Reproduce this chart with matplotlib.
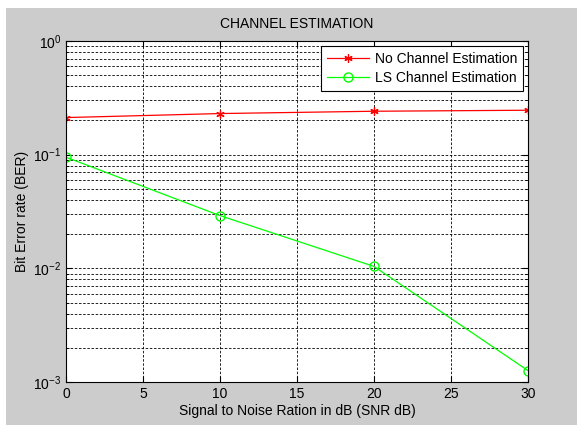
import matplotlib
matplotlib.use("Agg")
import matplotlib.pyplot as plt
from matplotlib.patches import Rectangle
from matplotlib.ticker import LogLocator, NullFormatter

plt.rcParams['font.family'] = ['Liberation Sans', 'DejaVu Sans']
plt.rcParams['mathtext.fontset'] = 'custom'
plt.rcParams['mathtext.rm'] = 'Liberation Sans'

snr_db = [0, 10, 20, 30]
ber_no_est = [0.212, 0.230, 0.241, 0.246]
ber_ls = [0.095, 0.0291, 0.0104, 0.00126]

W, H = 577, 425
fig = plt.figure(figsize=(W / 100, H / 100), dpi=100, facecolor='white')
fig.patches.append(Rectangle((6 / W, 0), 1, 1 - 8 / H, transform=fig.transFigure,
                             facecolor='#cccccc', edgecolor='none', zorder=-10))

ax = fig.add_axes([66 / W, (H - 382) / H, (528 - 66) / W, (382 - 41) / H])
ax.set_facecolor('white')

ax.semilogy(snr_db, ber_no_est, color='#ff0000', marker=(6, 2, 0), markersize=6,
            markeredgewidth=0.9, linewidth=0.9, label='No Channel Estimation')
ax.semilogy(snr_db, ber_ls, color='#00ff00', marker='o', markersize=6.5,
            markerfacecolor='none', linewidth=0.9, label='LS Channel Estimation')

ax.set_xlim(0, 30)
ax.set_ylim(1e-3, 1)
ax.set_xticks([0, 5, 10, 15, 20, 25, 30])
ax.yaxis.set_major_locator(LogLocator(base=10, numticks=10))
ax.yaxis.set_minor_locator(LogLocator(base=10, subs=range(2, 10), numticks=20))
ax.yaxis.set_minor_formatter(NullFormatter())

grid_kw = dict(color='black', linestyle=(0, (3, 2)), linewidth=0.6)
ax.grid(True, which='major', axis='both', **grid_kw)
ax.grid(True, which='minor', axis='y', **grid_kw)
ax.set_axisbelow(True)

ax.tick_params(which='both', direction='in', top=True, right=True,
               labelsize=10, colors='black')
ax.tick_params(which='major', length=4)
ax.tick_params(which='minor', length=2)
for s in ax.spines.values():
    s.set_linewidth(0.8)

ax.set_title('CHANNEL ESTIMATION', fontsize=10, pad=9)
ax.set_xlabel('Signal to Noise Ration in dB (SNR dB)', fontsize=10, labelpad=2)
ax.set_ylabel('Bit Error rate (BER)', fontsize=10, labelpad=3)

leg = ax.legend(loc='upper right', fontsize=10, fancybox=False, framealpha=1,
                edgecolor='black', borderaxespad=0.35, handlelength=3.0,
                handletextpad=0.4, borderpad=0.45, labelspacing=0.35)
leg.get_frame().set_linewidth(0.8)

fig.savefig('out.png', dpi=100)
